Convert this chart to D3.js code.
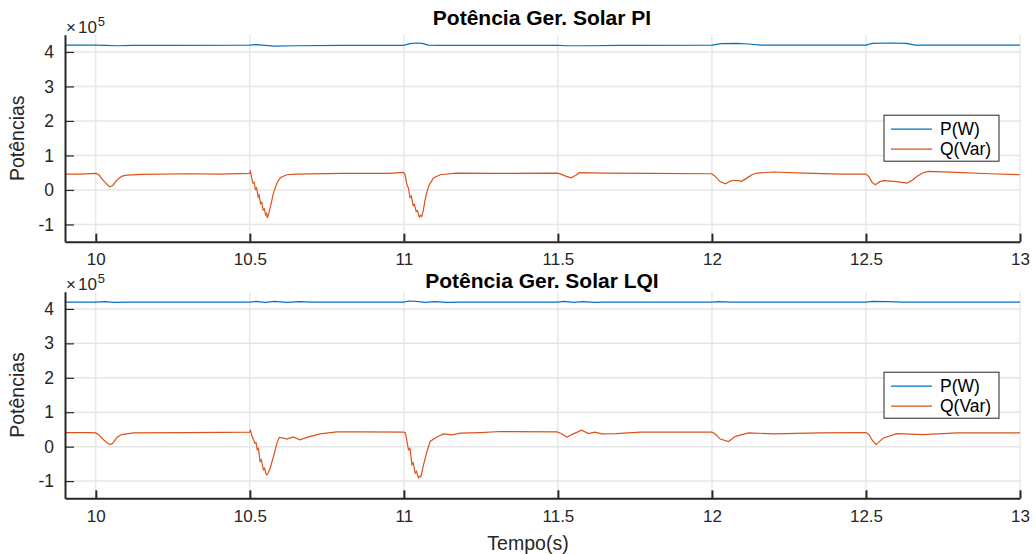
<!DOCTYPE html>
<html>
<head>
<meta charset="utf-8">
<script src="https://cdn.jsdelivr.net/npm/d3@7"></script>
<style>
  html, body { margin: 0; padding: 0; background: #fff; }
  svg { display: block; font-family: "Liberation Sans", Arial, Helvetica, sans-serif; }
</style>
</head>
<body>
<svg id="chart" width="1036" height="554"></svg>
<script>
// Time axis (s) and y-axis ticks (×10^5)
const xTicks = [10, 10.5, 11, 11.5, 12, 12.5, 13];
const xTickLabels = ["10", "10.5", "11", "11.5", "12", "12.5", "13"];
const yTicks = [-1, 0, 1, 2, 3, 4];
const yTickLabels = ["-1", "0", "1", "2", "3", "4"];
const seriesNames = ["P(W)", "Q(Var)"];
const titles = ["Potência Ger. Solar PI", "Potência Ger. Solar LQI"];

// PI controller: active power P (×10^5 W), [t, value]
const pPI = [
  [9.9,4.20],[10.0,4.20],[10.03,4.19],[10.07,4.18],[10.12,4.19],[10.2,4.19],
  [10.5,4.20],[10.52,4.21],[10.55,4.19],[10.58,4.17],[10.65,4.18],[10.8,4.19],
  [11.0,4.19],[11.02,4.24],[11.04,4.26],[11.06,4.25],[11.08,4.20],[11.12,4.19],
  [11.5,4.19],[11.53,4.18],[11.6,4.18],[11.7,4.19],[12.0,4.20],[12.03,4.24],
  [12.08,4.25],[12.12,4.23],[12.16,4.20],[12.5,4.20],[12.52,4.25],[12.58,4.26],
  [12.63,4.25],[12.66,4.20],[13.0,4.20]
];

// PI controller: reactive power Q (×10^5 Var)
const qPI = [
  [9.9,0.46],[9.95,0.46],[10.0,0.48],[10.01,0.44],[10.02,0.32],[10.03,0.22],
  [10.04,0.13],[10.046,0.09],[10.055,0.13],[10.07,0.30],[10.085,0.40],[10.1,0.43],
  [10.15,0.45],[10.3,0.47],[10.4,0.46],[10.499,0.48],[10.502,0.54],[10.506,0.35],
  [10.51,0.20],[10.514,0.22],[10.518,0.02],[10.522,0.06],[10.527,-0.20],[10.53,-0.15],
  [10.535,-0.40],[10.539,-0.36],[10.543,-0.58],[10.547,-0.55],[10.551,-0.72],
  [10.554,-0.68],[10.557,-0.81],[10.562,-0.66],[10.568,-0.45],[10.575,-0.15],
  [10.583,0.08],[10.59,0.24],[10.6,0.36],[10.62,0.44],[10.65,0.46],[10.8,0.48],
  [10.95,0.48],[10.999,0.51],[11.004,0.44],[11.01,0.15],[11.015,0.05],[11.02,-0.22],
  [11.024,-0.18],[11.03,-0.45],[11.034,-0.42],[11.04,-0.62],[11.044,-0.60],
  [11.05,-0.79],[11.054,-0.74],[11.058,-0.77],[11.063,-0.60],[11.069,-0.28],
  [11.075,-0.05],[11.082,0.14],[11.096,0.35],[11.118,0.44],[11.17,0.49],
  [11.3,0.48],[11.497,0.49],[11.51,0.46],[11.525,0.40],[11.543,0.35],[11.557,0.42],
  [11.57,0.50],[11.65,0.49],[11.8,0.48],[11.999,0.47],[12.01,0.40],[12.025,0.25],
  [12.044,0.18],[12.058,0.25],[12.07,0.28],[12.085,0.27],[12.097,0.25],
  [12.114,0.35],[12.13,0.44],[12.146,0.49],[12.2,0.52],[12.3,0.49],[12.417,0.46],
  [12.5,0.46],[12.51,0.38],[12.52,0.22],[12.53,0.15],[12.545,0.24],[12.557,0.27],
  [12.6,0.24],[12.633,0.20],[12.65,0.28],[12.665,0.39],[12.685,0.50],[12.703,0.54],
  [12.795,0.51],[12.9,0.47],[13.0,0.44]
];

// LQI controller: active power P (×10^5 W)
const pLQI = [
  [9.9,4.20],[10.0,4.20],[10.03,4.21],[10.06,4.19],[10.1,4.20],[10.5,4.20],
  [10.52,4.22],[10.55,4.19],[10.58,4.22],[10.62,4.19],[10.66,4.21],[10.7,4.20],
  [11.0,4.20],[11.015,4.23],[11.04,4.22],[11.07,4.19],[11.1,4.21],[11.14,4.19],
  [11.18,4.20],[11.5,4.20],[11.52,4.22],[11.55,4.19],[11.58,4.21],[11.62,4.19],
  [11.65,4.20],[12.0,4.20],[12.02,4.21],[12.06,4.20],[12.5,4.20],[12.52,4.22],
  [12.57,4.21],[12.62,4.20],[13.0,4.20]
];

// LQI controller: reactive power Q (×10^5 Var)
const qLQI = [
  [9.9,0.41],[9.98,0.41],[10.0,0.40],[10.01,0.34],[10.025,0.20],[10.04,0.09],
  [10.046,0.06],[10.055,0.10],[10.07,0.28],[10.084,0.35],[10.122,0.40],
  [10.3,0.41],[10.499,0.42],[10.502,0.47],[10.507,0.30],[10.512,0.20],
  [10.516,0.10],[10.52,0.12],[10.524,-0.09],[10.528,-0.05],[10.533,-0.43],
  [10.537,-0.38],[10.544,-0.67],[10.548,-0.63],[10.552,-0.78],[10.555,-0.82],
  [10.56,-0.76],[10.566,-0.62],[10.577,-0.28],[10.588,0.11],[10.596,0.27],
  [10.609,0.25],[10.62,0.22],[10.641,0.28],[10.663,0.20],[10.685,0.27],
  [10.728,0.37],[10.782,0.43],[10.869,0.43],[11.0,0.42],[11.005,0.40],
  [11.015,-0.09],[11.02,-0.05],[11.026,-0.52],[11.03,-0.47],[11.037,-0.77],
  [11.041,-0.72],[11.047,-0.91],[11.051,-0.86],[11.055,-0.88],[11.064,-0.52],
  [11.075,-0.14],[11.085,0.15],[11.107,0.28],[11.129,0.37],[11.156,0.34],
  [11.183,0.39],[11.248,0.41],[11.313,0.44],[11.497,0.43],[11.51,0.38],
  [11.529,0.28],[11.55,0.37],[11.577,0.48],[11.599,0.38],[11.62,0.42],
  [11.642,0.37],[11.69,0.38],[11.767,0.42],[12.0,0.42],[12.012,0.36],
  [12.027,0.22],[12.054,0.15],[12.076,0.30],[12.119,0.40],[12.2,0.37],
  [12.35,0.40],[12.5,0.41],[12.51,0.35],[12.519,0.20],[12.533,0.06],
  [12.545,0.16],[12.557,0.25],[12.6,0.38],[12.687,0.35],[12.795,0.40],[13.0,0.40]
];

const panels = [
  { title: titles[0], p: pPI, q: qPI, top: 34.7, bottom: 241.7, labelY: 259, titleY: 25 },
  { title: titles[1], p: pLQI, q: qLQI, top: 291.7, bottom: 498.3, labelY: 516, titleY: 288 }
];

const colors = ["#0072BD", "#D95319"];
const svg = d3.select("#chart");
const left = 65, right = 1020;
const x = d3.scaleLinear().domain([9.9, 13]).range([left, right]);

panels.forEach((pn, i) => {
  const y = d3.scaleLinear().domain([-1.5, 4.5]).range([pn.bottom, pn.top]);
  const g = svg.append("g");

  // grid
  g.append("g").selectAll("line").data(xTicks).join("line")
    .attr("x1", d => x(d)).attr("x2", d => x(d))
    .attr("y1", pn.top).attr("y2", pn.bottom)
    .attr("stroke", "#dedede").attr("stroke-width", 1);
  g.append("g").selectAll("line").data(yTicks).join("line")
    .attr("x1", left).attr("x2", right)
    .attr("y1", d => y(d)).attr("y2", d => y(d))
    .attr("stroke", "#e6e6e6").attr("stroke-width", 1.5);

  // clip
  const clipId = "clip" + i;
  svg.append("clipPath").attr("id", clipId).append("rect")
    .attr("x", left).attr("y", pn.top).attr("width", right - left).attr("height", pn.bottom - pn.top);

  const line = d3.line().x(d => x(d[0])).y(d => y(d[1]));
  const lines = g.append("g").attr("clip-path", `url(#${clipId})`);
  lines.append("path").datum(pn.p).attr("d", line)
    .attr("fill", "none").attr("stroke", colors[0]).attr("stroke-width", 1.2);
  lines.append("path").datum(pn.q).attr("d", line)
    .attr("fill", "none").attr("stroke", colors[1]).attr("stroke-width", 1.2);

  // axes
  const xAxis = d3.axisBottom(x).tickValues(xTicks)
    .tickFormat((d, k) => xTickLabels[k]).tickSizeInner(-8).tickSizeOuter(0).tickPadding(14);
  const xa = g.append("g").attr("transform", `translate(0,${pn.bottom})`).call(xAxis);
  xa.select(".domain").attr("stroke", "#262626").attr("stroke-width", 2);
  xa.selectAll(".tick line").attr("stroke", "#262626").attr("stroke-width", 2);
  xa.selectAll(".tick text").attr("fill", "#262626").attr("font-size", 17)
    .attr("y", pn.labelY - pn.bottom).attr("dy", "0.35em");

  const yAxis = d3.axisLeft(y).tickValues(yTicks)
    .tickFormat((d, k) => yTickLabels[k]).tickSizeInner(-9).tickSizeOuter(0).tickPadding(10);
  const ya = g.append("g").attr("transform", `translate(${left},0)`).call(yAxis);
  ya.select(".domain").attr("stroke", "#262626").attr("stroke-width", 2);
  ya.selectAll(".tick line").attr("stroke", "#262626").attr("stroke-width", 1.2);
  ya.selectAll(".tick text").attr("fill", "#262626").attr("font-size", 17.5).attr("x", -11);

  // exponent
  const ex = g.append("text").attr("x", left + 1).attr("y", pn.top - 2)
    .attr("fill", "#262626").attr("font-size", 17);
  ex.append("tspan").text("×");
  ex.append("tspan").attr("dx", 2).text("10");
  ex.append("tspan").attr("font-size", 13).attr("dy", -7).attr("dx", 1).text("5");

  // title
  g.append("text").attr("x", 542).attr("y", pn.titleY).attr("text-anchor", "middle")
    .attr("font-size", 21).attr("font-weight", "bold").attr("fill", "#000").text(pn.title);

  // y label
  g.append("text").attr("transform", `translate(24,${(pn.top + pn.bottom) / 2}) rotate(-90)`)
    .attr("text-anchor", "middle").attr("font-size", 19.5).attr("fill", "#262626").text("Potências");

  // legend
  const lx = 884, ly = pn.top + 80.5;
  const lg = g.append("g");
  lg.append("rect").attr("x", lx).attr("y", ly).attr("width", 115).attr("height", 46)
    .attr("fill", "#fff").attr("stroke", "#262626").attr("stroke-width", 1);
  seriesNames.forEach((nm, k) => {
    const yy = ly + 14 + k * 20;
    lg.append("line").attr("x1", lx + 7).attr("x2", lx + 48).attr("y1", yy).attr("y2", yy)
      .attr("stroke", colors[k]).attr("stroke-width", 1.2);
    lg.append("text").attr("x", lx + 56).attr("y", yy).attr("dy", "0.35em")
      .attr("font-size", 17.5).attr("fill", "#000").text(nm);
  });
});

// shared x label
svg.append("text").attr("x", 528).attr("y", 550).attr("text-anchor", "middle")
  .attr("font-size", 19.5).attr("fill", "#262626").text("Tempo(s)");
</script>
</body>
</html>
